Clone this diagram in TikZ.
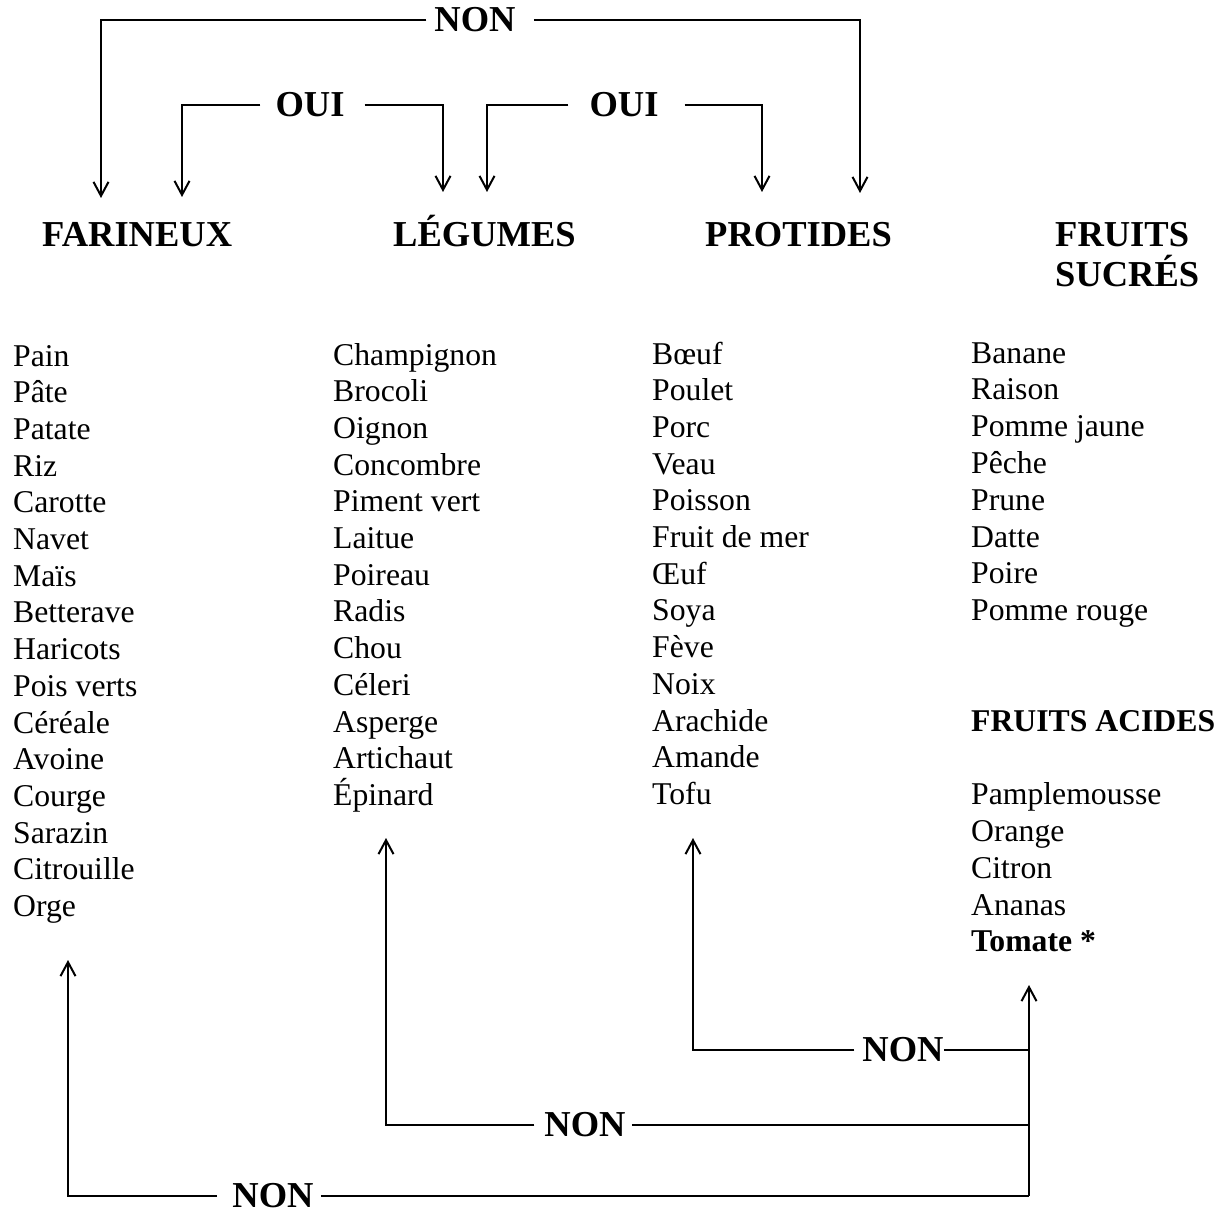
\documentclass[tikz,border=0pt]{standalone}
\usepackage{fontspec}
\setmainfont{Liberation Serif}
\usetikzlibrary{arrows.meta}
\tikzset{
  lbl/.style={font=\fontsize{36.5}{40}\selectfont\bfseries, inner sep=0pt},
  hdr/.style={font=\fontsize{36.5}{40}\selectfont\bfseries, anchor=base west, inner sep=0pt},
  item/.style={font=\fontsize{31.7}{37}\selectfont, anchor=base west, inner sep=0pt},
  bitem/.style={item, font=\fontsize{31.7}{37}\selectfont\bfseries},
  conn/.style={line width=2.4pt, -{Straight Barb[length=14pt,width=15pt,line width=2pt]}},
  plain/.style={line width=2.4pt}
}
\begin{document}
\begin{tikzpicture}[x=1pt,y=-1pt]
\useasboundingbox (0,0) rectangle (1225,1214);

% headers
\node[hdr] (hFar) at (42,247) {FARINEUX};
\node[hdr] (hLeg) at (393,247) {LÉGUMES};
\node[hdr] (hPro) at (705,247) {PROTIDES};
\node[hdr] (hFru1) at (1055,247) {FRUITS};
\node[hdr] (hFru2) at (1055,287) {SUCRÉS};

% lists
\foreach \t [count=\i] in {Pain,Pâte,Patate,Riz,Carotte,Navet,Maïs,Betterave,Haricots,Pois verts,Céréale,Avoine,Courge,Sarazin,Citrouille,Orge}
  \node[item] (fa\i) at (13,{366+(\i-1)*36.7}) {\t};
\foreach \t [count=\i] in {Champignon,Brocoli,Oignon,Concombre,Piment vert,Laitue,Poireau,Radis,Chou,Céleri,Asperge,Artichaut,Épinard}
  \node[item] (le\i) at (333,{365+(\i-1)*36.7}) {\t};
\foreach \t [count=\i] in {Bœuf,Poulet,Porc,Veau,Poisson,Fruit de mer,Œuf,Soya,Fève,Noix,Arachide,Amande,Tofu}
  \node[item] (pr\i) at (652,{364+(\i-1)*36.7}) {\t};
\foreach \t [count=\i] in {Banane,Raison,Pomme jaune,Pêche,Prune,Datte,Poire,Pomme rouge}
  \node[item] (fs\i) at (971,{363+(\i-1)*36.8}) {\t};
\node[bitem] (hAci) at (971,{363+10*36.8}) {FRUITS ACIDES};
\foreach \t [count=\i] in {Pamplemousse,Orange,Citron,Ananas}
  \node[item] (fc\i) at (971,{363+(\i+11)*36.8}) {\t};
\node[bitem] (fc5) at (971,{363+16*36.8}) {Tomate *};

% top labels
\node[lbl] (nonT) at (475,20) {NON};
\node[lbl] (ouiL) at (310,105) {OUI};
\node[lbl] (ouiR) at (624,105) {OUI};

% top arrow targets
\coordinate (tFar1) at (101,198);
\coordinate (tFar2) at (182,197);
\coordinate (tLeg1) at (443,192);
\coordinate (tLeg2) at (487,192);
\coordinate (tPro1) at (762,192);
\coordinate (tPro2) at (860,193);

\draw[conn] ([xshift=-8pt]nonT.west) -| (tFar1);
\draw[conn] ([xshift=18pt]nonT.east) -| (tPro2);
\draw[conn] ([xshift=-15pt]ouiL.west) -| (tFar2);
\draw[conn] ([xshift=20pt]ouiL.east) -| (tLeg1);
\draw[conn] ([xshift=-21pt]ouiR.west) -| (tLeg2);
\draw[conn] ([xshift=26pt]ouiR.east) -| (tPro1);

% bottom labels
\node[lbl] (nonA) at (903,1050) {NON};
\node[lbl] (nonB) at (585,1125) {NON};
\node[lbl] (nonC) at (273,1196) {NON};

% bottom arrow targets
\coordinate (bBot) at (1029,1196);
\coordinate (tTom) at (1029,985);
\coordinate (tPro) at (693,838);
\coordinate (tLeg) at (386,838);
\coordinate (tFar) at (68,960);

\draw[conn] (bBot) -- (tTom);
\draw[plain] (nonA.east) -- (nonA.east -| bBot);
\draw[plain] ([xshift=6pt]nonB.east) -- (nonB.east -| bBot);
\draw[plain] ([xshift=7pt]nonC.east) -- (nonC.east -| bBot);
\draw[conn] ([xshift=-8pt]nonA.west) -| (tPro);
\draw[conn] ([xshift=-10pt]nonB.west) -| (tLeg);
\draw[conn] ([xshift=-15pt]nonC.west) -| (tFar);
\end{tikzpicture}
\end{document}
